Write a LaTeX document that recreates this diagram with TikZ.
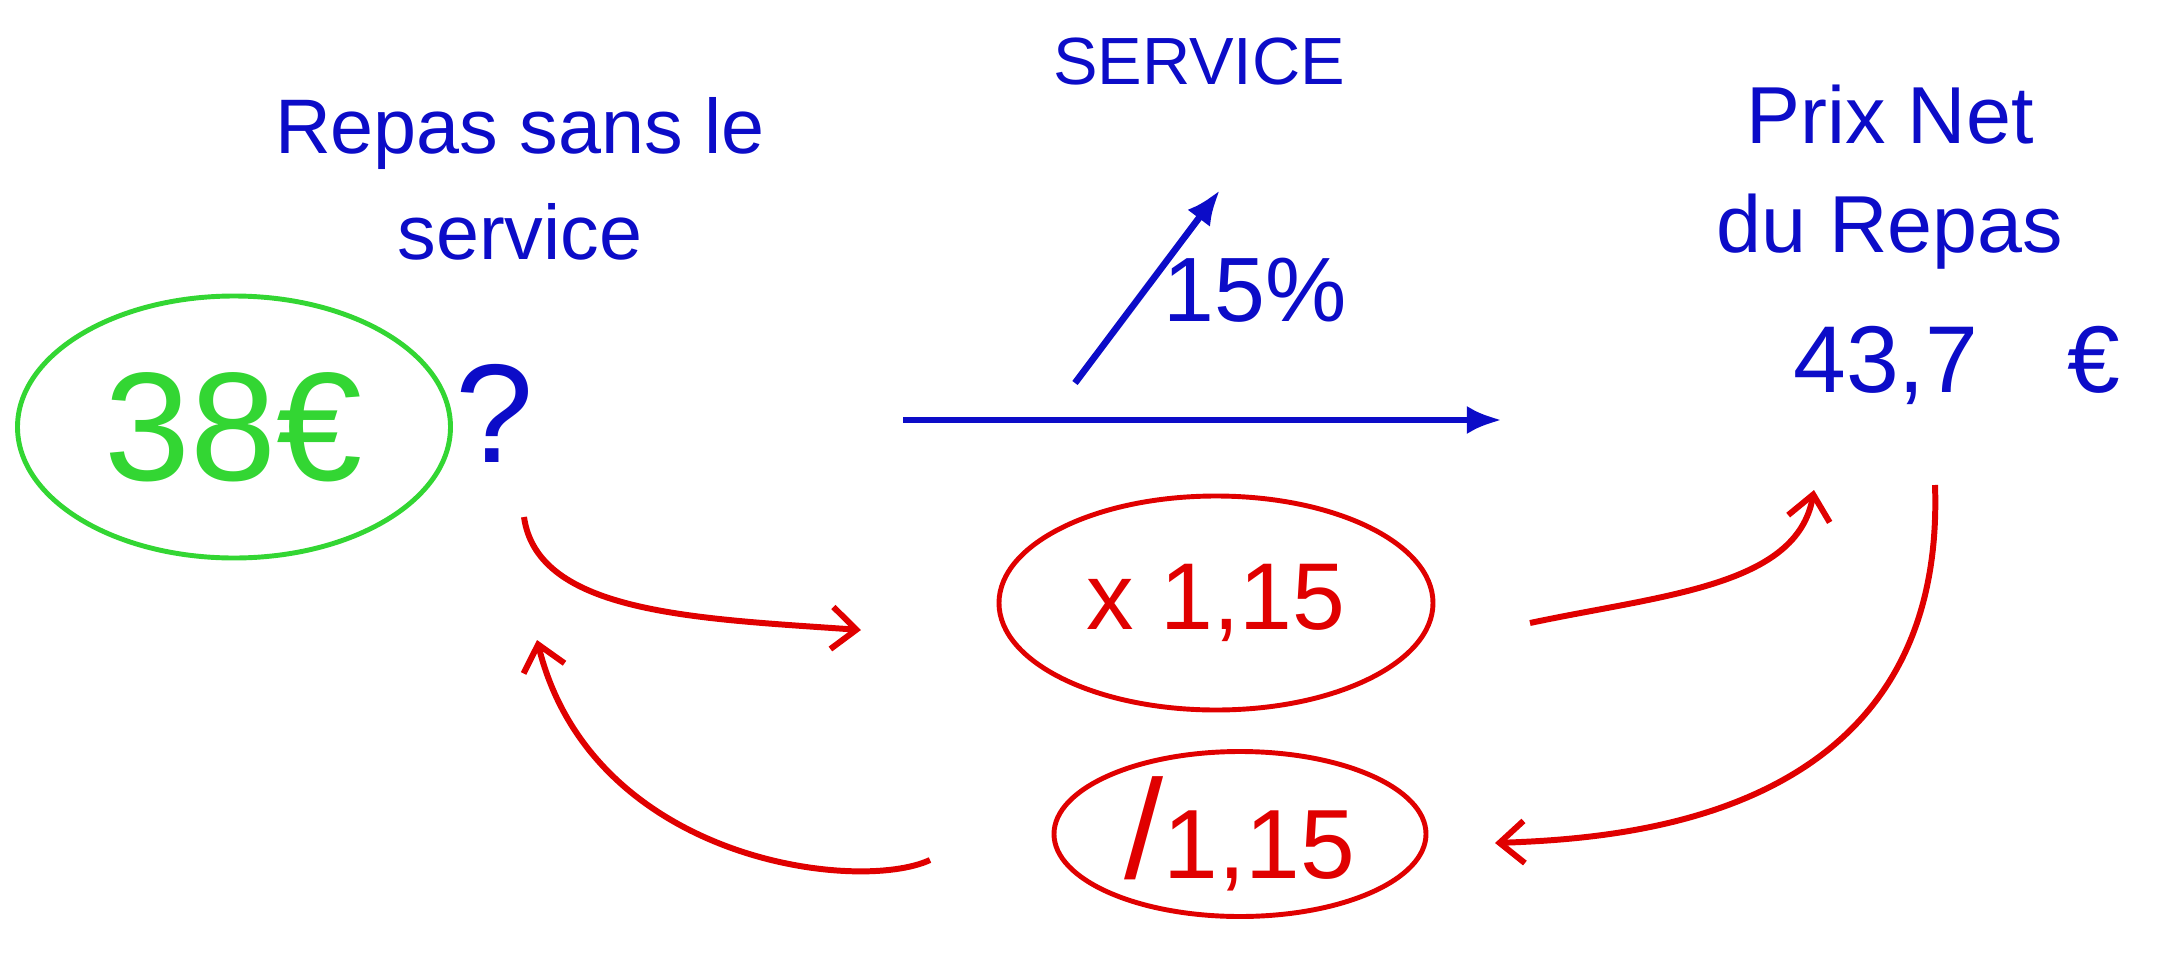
\documentclass[tikz,border=0pt]{standalone}
\usepackage{fontspec}
\setmainfont{Liberation Sans}
\usetikzlibrary{arrows.meta, positioning, shapes.geometric}
\definecolor{penblue}{HTML}{0C0CC8}
\definecolor{pengreen}{HTML}{33D633}
\definecolor{penred}{HTML}{E00000}

\begin{document}
\begin{tikzpicture}[
    line width=1.2pt,
    bluetext/.style={text=penblue, font=\fontsize{22}{30}\selectfont, align=center},
    oval/.style={draw=#1, text=#1, ellipse, line width=1.4pt, inner sep=0pt},
    redflow/.style={draw=penred, line width=1.7pt, -{Straight Barb[length=7pt, width=12pt]}},
    blueflow/.style={draw=penblue, line width=1.9pt, -{Latex[length=10pt, width=8pt]}}
]
    \useasboundingbox (0,0) rectangle (21.61,9.57);

    % 1. Blue labels
    \node[bluetext, font=\fontsize{19}{20}\selectfont] (service) at (11.99, 8.95) {SERVICE};
    \node[bluetext] (before) at (5.20, 7.78) {Repas sans le\\service};
    \node[bluetext, font=\fontsize{23}{31}\selectfont] (after) at (18.90, 7.80) {Prix Net\\du Repas};
    \node[bluetext, font=\fontsize{40}{40}\selectfont] (q) at (4.95, 5.44) {?};
    \node[bluetext, font=\fontsize{27}{28}\selectfont] (net) at (19.57, 5.92) {43,7\hspace{0.9cm}€};
    \node[bluetext, font=\fontsize{26}{28}\selectfont] (pct) at (12.55, 6.67) {15\%};

    % 2. Meal price without service (Left)
    \node[oval=pengreen, minimum width=4.33cm, minimum height=2.62cm, font=\fontsize{44}{44}\selectfont] (meal) at (2.34, 5.30) {38€};

    % 3. Multiply / divide operators (Centre)
    \node[oval=penred, minimum width=4.34cm, minimum height=2.14cm, font=\fontsize{27}{28}\selectfont] (mul) at (12.16, 3.54) {x 1,15};
    \node[oval=penred, minimum width=3.72cm, minimum height=1.65cm, font=\fontsize{28}{28}\selectfont] (div) at (12.40, 1.23) {{\fontsize{40}{40}\selectfont/}1,15};

    % 4. Service rise and direction of reading
    \coordinate (rise0) at (10.75, 5.74);
    \coordinate (rise1) at (12.20, 7.67);
    \coordinate (flow0) at (9.03, 5.37);
    \coordinate (flow1) at (15.02, 5.37);
    \draw[blueflow] (rise0) -- (rise1);
    \draw[blueflow] (flow0) -- (flow1);

    % 5. Red loop: forward with x 1,15, back with /1,15
    \draw[redflow] ([shift={(0.29,-1.04)}]q.center) to[out=-82, in=176, out looseness=0.7, in looseness=1.2] ([shift={(-3.55,-0.27)}]mul.center);
    \draw[redflow] ([shift={(3.14,-0.20)}]mul.center) to[out=12, in=-100, out looseness=1.1, in looseness=0.8] ([shift={(-1.43,-1.25)}]net.center);
    \draw[redflow] ([shift={(-0.22,-1.20)}]net.center) to[out=-88, in=2, out looseness=1.5, in looseness=0.6] ([shift={(2.55,-0.09)}]div.center);
    \draw[redflow] ([shift={(-3.10,-0.26)}]div.center) to[out=205, in=-76, out looseness=0.45, in looseness=1.3] ([shift={(0.42,-2.27)}]q.center);

\end{tikzpicture}
\end{document}
